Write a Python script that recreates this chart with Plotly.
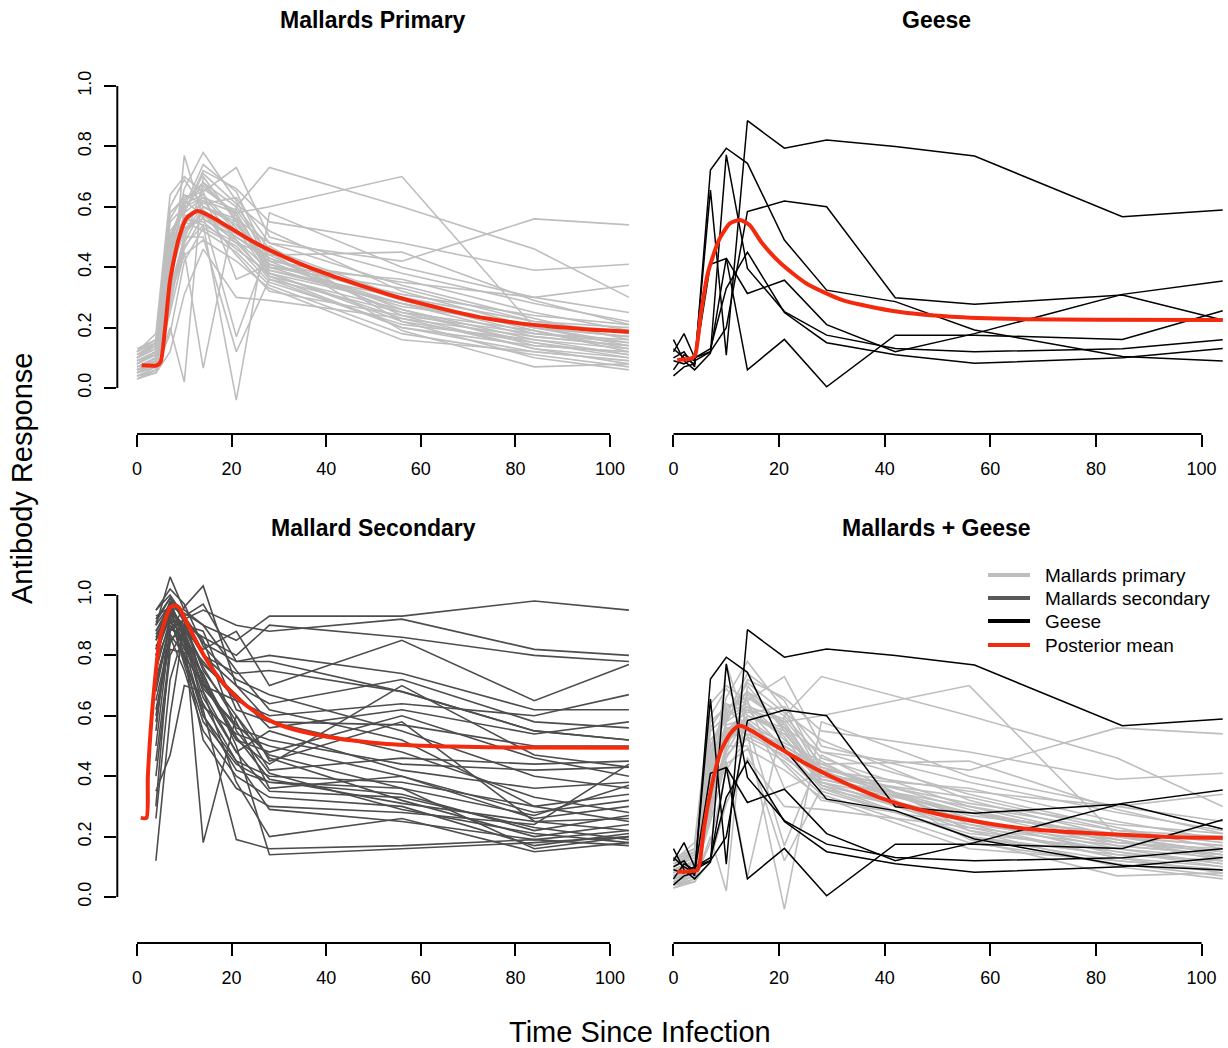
import plotly.graph_objects as go

# ---------------- data ----------------
# Mallards primary: sampling days and individual responses
mp_days = [0, 4, 7, 10, 14, 21, 28, 56, 84, 104]
mp_lines = [
    [0.08, 0.12, 0.50, 0.62, 0.68, 0.60, 0.73, 0.60, 0.46, 0.30],
    [0.10, 0.15, 0.40, 0.55, 0.62, 0.58, 0.60, 0.70, 0.20, 0.14],
    [0.06, 0.09, 0.35, 0.58, 0.72, 0.66, 0.55, 0.48, 0.39, 0.41],
    [0.05, 0.08, 0.30, 0.48, 0.60, 0.56, 0.48, 0.42, 0.56, 0.54],
    [0.12, 0.18, 0.64, 0.70, 0.65, 0.73, 0.50, 0.38, 0.28, 0.22],
    [0.04, 0.06, 0.28, 0.77, 0.56, 0.50, 0.42, 0.35, 0.30, 0.34],
    [0.09, 0.11, 0.45, 0.66, 0.78, 0.62, 0.40, 0.33, 0.22, 0.18],
    [0.07, 0.10, 0.38, 0.52, 0.58, 0.48, 0.44, 0.24, 0.18, 0.16],
    [0.03, 0.05, 0.20, 0.02, 0.70, 0.55, 0.38, 0.28, 0.20, 0.15],
    [0.11, 0.14, 0.55, 0.60, 0.63, 0.52, 0.43, 0.26, 0.16, 0.13],
    [0.06, 0.08, 0.25, 0.45, 0.066, 0.60, 0.46, 0.30, 0.22, 0.20],
    [0.08, 0.12, 0.48, 0.56, 0.54, -0.04, 0.58, 0.40, 0.30, 0.25],
    [0.05, 0.07, 0.32, 0.50, 0.50, 0.12, 0.36, 0.25, 0.19, 0.12],
    [0.10, 0.13, 0.42, 0.62, 0.57, 0.17, 0.47, 0.22, 0.15, 0.10],
    [0.04, 0.05, 0.12, 0.31, 0.46, 0.30, 0.29, 0.23, 0.13, 0.08],
    [0.13, 0.16, 0.58, 0.63, 0.66, 0.58, 0.40, 0.36, 0.25, 0.19],
    [0.07, 0.09, 0.36, 0.54, 0.62, 0.49, 0.36, 0.20, 0.12, 0.09],
    [0.09, 0.12, 0.50, 0.59, 0.68, 0.56, 0.39, 0.28, 0.17, 0.14],
    [0.06, 0.10, 0.40, 0.56, 0.55, 0.46, 0.38, 0.22, 0.10, 0.06],
    [0.12, 0.15, 0.47, 0.52, 0.60, 0.54, 0.41, 0.31, 0.24, 0.21],
    [0.05, 0.08, 0.30, 0.46, 0.57, 0.51, 0.45, 0.19, 0.07, 0.08],
    [0.08, 0.11, 0.44, 0.61, 0.64, 0.53, 0.37, 0.26, 0.14, 0.12],
    [0.10, 0.14, 0.52, 0.58, 0.71, 0.61, 0.52, 0.32, 0.20, 0.17],
    [0.03, 0.06, 0.18, 0.42, 0.53, 0.47, 0.35, 0.21, 0.16, 0.11],
    [0.07, 0.10, 0.41, 0.57, 0.59, 0.50, 0.43, 0.29, 0.18, 0.15],
    [0.09, 0.12, 0.46, 0.55, 0.52, 0.45, 0.34, 0.18, 0.11, 0.07],
    [0.06, 0.09, 0.33, 0.49, 0.67, 0.57, 0.40, 0.27, 0.21, 0.19],
    [0.11, 0.15, 0.56, 0.64, 0.61, 0.63, 0.48, 0.34, 0.23, 0.16],
    [0.04, 0.07, 0.27, 0.51, 0.58, 0.44, 0.32, 0.24, 0.13, 0.10],
    [0.08, 0.11, 0.43, 0.53, 0.56, 0.49, 0.39, 0.30, 0.19, 0.13],
    [0.10, 0.13, 0.49, 0.60, 0.74, 0.65, 0.42, 0.25, 0.15, 0.11],
    [0.05, 0.09, 0.34, 0.47, 0.54, 0.48, 0.37, 0.20, 0.14, 0.12],
    [0.07, 0.10, 0.39, 0.58, 0.63, 0.59, 0.44, 0.45, 0.29, 0.21],
    [0.12, 0.16, 0.60, 0.69, 0.60, 0.55, 0.38, 0.23, 0.17, 0.14],
    [0.06, 0.08, 0.31, 0.44, 0.49, 0.42, 0.33, 0.16, 0.12, 0.09],
    [0.09, 0.12, 0.47, 0.63, 0.65, 0.36, 0.41, 0.28, 0.20, 0.17],
]

# Mallards secondary
ms_days = [4, 7, 10, 14, 21, 28, 56, 84, 104]
ms_lines = [
    [0.90, 1.06, 0.95, 0.90, 0.85, 0.93, 0.93, 0.98, 0.95],
    [0.85, 0.98, 0.92, 0.95, 0.90, 0.88, 0.92, 0.82, 0.80],
    [0.80, 0.95, 0.90, 0.86, 0.80, 0.90, 0.86, 0.80, 0.78],
    [0.75, 0.92, 0.88, 0.82, 0.88, 0.70, 0.85, 0.65, 0.77],
    [0.95, 1.00, 0.93, 0.97, 0.78, 0.80, 0.74, 0.62, 0.62],
    [0.60, 0.88, 0.96, 1.03, 0.70, 0.64, 0.72, 0.58, 0.56],
    [0.30, 0.85, 0.90, 0.80, 0.74, 0.75, 0.68, 0.55, 0.52],
    [0.88, 0.97, 0.85, 0.78, 0.65, 0.60, 0.64, 0.60, 0.67],
    [0.12, 0.60, 0.90, 0.88, 0.62, 0.58, 0.57, 0.50, 0.50],
    [0.92, 0.99, 0.91, 0.75, 0.60, 0.42, 0.46, 0.44, 0.45],
    [0.82, 0.96, 0.80, 0.70, 0.56, 0.52, 0.44, 0.42, 0.43],
    [0.70, 0.91, 0.87, 0.72, 0.52, 0.48, 0.60, 0.46, 0.40],
    [0.55, 0.94, 0.84, 0.66, 0.48, 0.55, 0.42, 0.36, 0.38],
    [0.85, 0.93, 0.78, 0.64, 0.45, 0.40, 0.38, 0.30, 0.34],
    [0.40, 0.80, 0.89, 0.76, 0.58, 0.36, 0.40, 0.26, 0.30],
    [0.78, 0.90, 0.83, 0.60, 0.42, 0.38, 0.34, 0.22, 0.27],
    [0.90, 0.97, 0.88, 0.18, 0.60, 0.46, 0.32, 0.20, 0.24],
    [0.65, 0.86, 0.75, 0.55, 0.40, 0.33, 0.30, 0.17, 0.21],
    [0.35, 0.47, 0.70, 0.68, 0.38, 0.20, 0.26, 0.15, 0.18],
    [0.88, 0.95, 0.82, 0.74, 0.50, 0.14, 0.16, 0.18, 0.20],
    [0.83, 0.92, 0.79, 0.62, 0.19, 0.16, 0.17, 0.19, 0.17],
    [0.72, 0.89, 0.86, 0.70, 0.65, 0.45, 0.58, 0.25, 0.22],
    [0.50, 0.88, 0.92, 0.85, 0.55, 0.41, 0.29, 0.21, 0.18],
    [0.93, 0.96, 0.94, 0.90, 0.75, 0.62, 0.52, 0.30, 0.25],
    [0.80, 0.93, 0.77, 0.58, 0.44, 0.38, 0.36, 0.27, 0.37],
    [0.45, 0.82, 0.81, 0.52, 0.36, 0.30, 0.28, 0.24, 0.44],
    [0.87, 0.94, 0.90, 0.80, 0.70, 0.58, 0.48, 0.33, 0.28],
    [0.68, 0.90, 0.85, 0.68, 0.48, 0.35, 0.33, 0.23, 0.19],
    [0.77, 0.98, 0.86, 0.63, 0.54, 0.50, 0.40, 0.28, 0.32],
    [0.95, 1.02, 0.97, 0.83, 0.72, 0.67, 0.55, 0.40, 0.36],
    [0.58, 0.87, 0.80, 0.60, 0.45, 0.29, 0.25, 0.19, 0.22],
    [0.86, 0.95, 0.89, 0.77, 0.67, 0.56, 0.62, 0.54, 0.58],
    [0.62, 0.84, 0.92, 0.71, 0.52, 0.44, 0.70, 0.47, 0.43],
    [0.91, 0.99, 0.93, 0.84, 0.78, 0.78, 0.68, 0.55, 0.52],
    [0.26, 0.72, 0.88, 0.73, 0.53, 0.39, 0.31, 0.25, 0.26],
    [0.82, 0.94, 0.87, 0.69, 0.57, 0.47, 0.36, 0.16, 0.20],
]

# Geese
g_days = [0, 2, 4, 7, 10, 14, 21, 29, 42, 57, 85, 104]
g_lines = [
    [0.13, 0.10, 0.08, 0.655, 0.109, 0.885, 0.794, 0.821, 0.80, 0.768, 0.567, 0.589],
    [0.10, 0.12, 0.07, 0.722, 0.794, 0.744, 0.49, 0.324, 0.286, 0.192, 0.104, 0.089],
    [0.09, 0.08, 0.10, 0.12, 0.20, 0.584, 0.619, 0.600, 0.299, 0.277, 0.308, 0.225],
    [0.06, 0.11, 0.09, 0.12, 0.43, 0.313, 0.357, 0.21, 0.12, 0.18, 0.31, 0.354],
    [0.04, 0.07, 0.08, 0.41, 0.429, 0.06, 0.161, 0.004, 0.175, 0.175, 0.161, 0.256],
    [0.16, 0.09, 0.06, 0.115, 0.772, 0.396, 0.253, 0.175, 0.131, 0.12, 0.13, 0.16],
    [0.12, 0.18, 0.10, 0.13, 0.33, 0.45, 0.25, 0.15, 0.11, 0.082, 0.10, 0.131],
]

# Posterior mean curves
pm_mp_t = [1, 4.2, 5.0, 5.9, 7.0, 8.75, 10.5, 12.85, 17.6, 24.6, 31.7, 38.8, 45.8,
           52.9, 60, 67, 74, 81, 88, 95.3, 104]
pm_mp_v = [0.075, 0.075, 0.087, 0.19, 0.357, 0.49, 0.563, 0.586, 0.55, 0.484, 0.43,
           0.385, 0.347, 0.311, 0.28, 0.253, 0.23, 0.214, 0.203, 0.194, 0.186]
pm_g_t = [0.7, 3.4, 4.1, 5.2, 6.5, 8.6, 10.7, 12.6, 14.4, 16.8, 20.3, 25.1, 32, 42.3,
          52.6, 66.3, 80, 104]
pm_g_v = [0.093, 0.098, 0.109, 0.247, 0.38, 0.49, 0.545, 0.556, 0.54, 0.479, 0.413,
          0.347, 0.291, 0.253, 0.236, 0.228, 0.226, 0.225]
pm_ms_t = [0.8, 2.0, 2.3, 3.4, 4.9, 7.0, 8.0, 8.9, 10.5, 14, 17.5, 21.1, 24.6, 28.1,
           31.6, 38.7, 45.7, 52.8, 66.9, 81, 104]
pm_ms_v = [0.262, 0.262, 0.40, 0.65, 0.86, 0.958, 0.966, 0.958, 0.909, 0.804, 0.722,
           0.661, 0.617, 0.584, 0.562, 0.535, 0.518, 0.507, 0.498, 0.495, 0.494]
pm_all_t = [0.7, 4.5, 5.0, 5.8, 7.2, 8.9, 10.7, 12.4, 14.1, 18.2, 25.1, 32, 38.8, 45.7,
            56, 66.3, 80, 93.8, 104]
pm_all_v = [0.084, 0.089, 0.116, 0.232, 0.364, 0.48, 0.54, 0.568, 0.557, 0.513, 0.441,
            0.381, 0.331, 0.293, 0.254, 0.227, 0.21, 0.199, 0.196]

x_ticks = [0, 20, 40, 60, 80, 100]
y_ticks = [0, 0.2, 0.4, 0.6, 0.8, 1.0]
y_ticklabels = ["0.0", "0.2", "0.4", "0.6", "0.8", "1.0"]

panel_titles = ["Mallards Primary", "Geese", "Mallard Secondary", "Mallards + Geese"]
legend_labels = ["Mallards primary", "Mallards secondary", "Geese", "Posterior mean"]

# ---------------- styling ----------------
C_MP = "#BEBEBE"
C_MS = "#4D4D4D"
C_G = "#000000"
C_RED = "#F42A0E"
FONT = "Liberation Sans, Arial, sans-serif"


def group_xy(days, lines):
    xs, ys = [], []
    for ln in lines:
        xs += list(days) + [None]
        ys += list(ln) + [None]
    return xs, ys


fig = go.Figure()


def add_group(days, lines, color, ax, width=1.6):
    xs, ys = group_xy(days, lines)
    fig.add_trace(go.Scatter(x=xs, y=ys, mode="lines", line=dict(color=color, width=width),
                             xaxis="x" + ax, yaxis="y" + ax, showlegend=False,
                             hoverinfo="skip"))


def add_red(t, v, ax):
    fig.add_trace(go.Scatter(x=t, y=v, mode="lines",
                             line=dict(color=C_RED, width=4, shape="spline", smoothing=0.6),
                             xaxis="x" + ax, yaxis="y" + ax, showlegend=False,
                             hoverinfo="skip"))


# panel 1: mallards primary
add_group(mp_days, mp_lines, C_MP, "")
add_red(pm_mp_t, pm_mp_v, "")
# panel 2: geese
add_group(g_days, g_lines, C_G, "2", width=1.5)
add_red(pm_g_t, pm_g_v, "2")
# panel 3: mallards secondary
add_group(ms_days, ms_lines, C_MS, "3")
add_red(pm_ms_t, pm_ms_v, "3")
# panel 4: combined
add_group(mp_days, mp_lines, C_MP, "4")
add_group(g_days, g_lines, C_G, "4", width=1.5)
add_red(pm_all_t, pm_all_v, "4")

W, H = 1228, 1048
XL = [117.3 / W, 648.6 / W]
XR = [651.5 / W, 1.0]
YT = [(H - 434) / H, (H - 56) / H]
YB = [(H - 943) / H, (H - 565) / H]
YR = [-0.1523, 1.0993]
XRANGE_L = [-4.16, 108.16]
XRANGE_R = [-4.16, 105.0]

tickfont = dict(family=FONT, size=18, color="black")


def xax(domain, rng, anchor):
    return dict(domain=domain, range=rng, anchor=anchor, showgrid=False, zeroline=False,
                showline=False, ticks="outside", ticklen=12, tickwidth=2, tickcolor="black",
                tickvals=x_ticks, tickfont=tickfont, ticklabelstandoff=6, fixedrange=True)


def yax(domain, anchor, visible=True):
    d = dict(domain=domain, range=YR, anchor=anchor, showgrid=False, zeroline=False,
             showline=False, fixedrange=True)
    if visible:
        d.update(ticks="outside", ticklen=12, tickwidth=2, tickcolor="black",
                 tickvals=y_ticks, ticktext=y_ticklabels, tickangle=-90,
                 tickfont=tickfont, ticklabelstandoff=6)
    else:
        d.update(visible=False)
    return d


fig.update_layout(
    width=W, height=H, margin=dict(l=0, r=0, t=0, b=0),
    paper_bgcolor="white", plot_bgcolor="white", showlegend=False,
    xaxis=xax(XL, XRANGE_L, "y"), yaxis=yax(YT, "x"),
    xaxis2=xax(XR, XRANGE_R, "y2"), yaxis2=yax(YT, "x2", visible=False),
    xaxis3=xax(XL, XRANGE_L, "y3"), yaxis3=yax(YB, "x3"),
    xaxis4=xax(XR, XRANGE_R, "y4"), yaxis4=yax(YB, "x4", visible=False),
)

# R-style axis lines spanning only the tick range
shapes = []
for ax in ["", "2", "3", "4"]:
    shapes.append(dict(type="line", xref="x" + ax, yref="y" + ax + " domain",
                       x0=x_ticks[0], x1=x_ticks[-1], y0=0, y1=0,
                       line=dict(color="black", width=2)))
for ax in ["", "3"]:
    shapes.append(dict(type="line", xref="x" + ax + " domain", yref="y" + ax,
                       x0=0, x1=0, y0=y_ticks[0], y1=y_ticks[-1],
                       line=dict(color="black", width=2)))

annotations = []
title_pos = [(373, 20), (936, 20), (373, 528), (936, 528)]
for txt, (px, py) in zip(panel_titles, title_pos):
    annotations.append(dict(text="<b>" + txt + "</b>", x=px / W, y=(H - py) / H,
                            xref="paper", yref="paper", showarrow=False,
                            xanchor="center", yanchor="middle",
                            font=dict(family=FONT, size=23, color="black")))
annotations.append(dict(text="Antibody Response", x=22 / W, y=(H - 478) / H,
                        xref="paper", yref="paper", showarrow=False, textangle=-90,
                        xanchor="center", yanchor="middle",
                        font=dict(family=FONT, size=29, color="black")))
annotations.append(dict(text="Time Since Infection", x=640 / W, y=(H - 1032) / H,
                        xref="paper", yref="paper", showarrow=False,
                        xanchor="center", yanchor="middle",
                        font=dict(family=FONT, size=29, color="black")))

# legend (drawn in the bottom-right panel, top-right corner)
leg_colors = [C_MP, "#595959", C_G, C_RED]
leg_rows = [575, 598, 621, 645]
for lab, col, py in zip(legend_labels, leg_colors, leg_rows):
    yp = (H - py) / H
    shapes.append(dict(type="line", xref="paper", yref="paper",
                       x0=988 / W, x1=1030 / W, y0=yp, y1=yp,
                       line=dict(color=col, width=4)))
    annotations.append(dict(text=lab, x=1043 / W, y=yp, xref="paper", yref="paper",
                            showarrow=False, xanchor="left", yanchor="middle",
                            font=dict(family=FONT, size=19, color="black")))

fig.update_layout(shapes=shapes, annotations=annotations)

fig.write_html("out.html")
